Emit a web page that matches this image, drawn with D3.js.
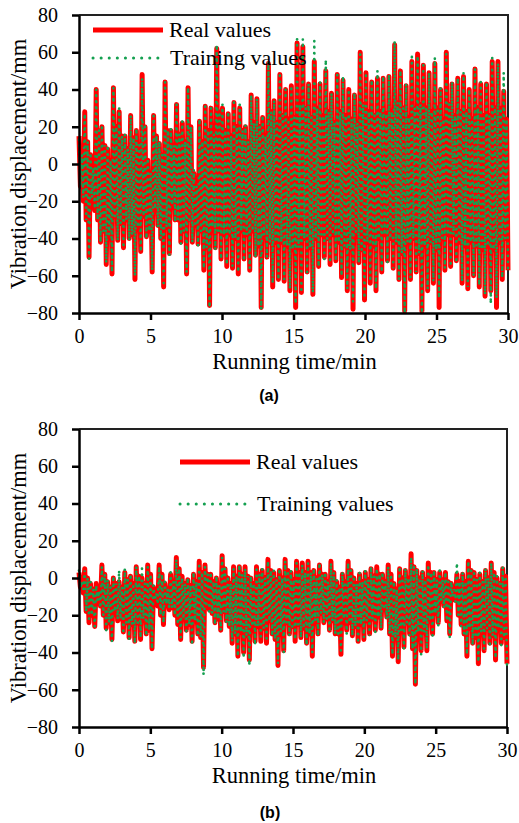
<!DOCTYPE html>
<head>
<meta charset="utf-8">
<title>Vibration displacement</title>
<script src="https://cdn.jsdelivr.net/npm/d3@7/dist/d3.min.js"></script>
<style>
body { margin: 0; background: #fff; }
.axis text { font: 20px "Liberation Serif", "Times New Roman", serif; fill: #000; }
.axis path, .axis line { fill: none; stroke: #000; stroke-width: 2.5; }
.title { font: 22.5px "Liberation Serif", "Times New Roman", serif; fill: #000; }
.legend { font: 22px "Liberation Serif", "Times New Roman", serif; fill: #000; }
.caption { font: bold 16px "Liberation Sans", Arial, sans-serif; fill: #000; }
</style>
</head>
<body>
<script>
// tick labels
var xTicks = [0, 5, 10, 15, 20, 25, 30];
var yTicks = [-80, -60, -40, -20, 0, 20, 40, 60, 80];

// (a), one cycle every 0.4 min: spike top, body low, body high, spike bottom
var realPeaksA = [15,28,5,40,20,8,41,28,15,26, 18,48,2,26,11,44,18,32,22,41,
  -5,23,31,30,62,30,27,33,30,20, 37,35,25,54,34,48,40,42,65,63,
  43,55,43,50,38,48,45,40,37,60, 49,44,46,46,47,64,50,42,55,59,
  53,49,54,40,60,43,46,47,40,51, 43,43,55,55,39];
var realTroughsA = [-20,-50,-25,-42,-54,-59,-41,-45,-40,-62, -47,-39,-58,-33,-66,-48,-30,-42,-59,-42,
  -43,-57,-76,-45,-51,-55,-56,-59,-51,-57, -49,-77,-50,-66,-62,-63,-68,-77,-69,-58,
  -70,-55,-50,-54,-52,-61,-68,-78,-53,-73, -64,-68,-58,-52,-56,-62,-79,-62,-58,-79,
  -68,-64,-77,-57,-55,-52,-64,-67,-60,-66, -71,-68,-77,-62,-57];
var trainPeaksA = [13,27,6,40,21,10,41,30,16,26, 19,46,3,26,12,44,19,32,23,41,
  -3,24,31,30,64,32,28,33,32,21, 37,35,26,55,34,49,40,42,67,67,
  43,66,44,56,38,48,47,40,38,59, 49,45,50,47,48,66,50,43,59,58,
  53,49,57,41,59,44,46,49,40,51, 44,44,57,54,49];
var trainTroughsA = [-18,-51,-24,-42,-53,-58,-41,-45,-41,-60, -47,-40,-57,-34,-64,-49,-31,-43,-58,-42,
  -44,-56,-77,-46,-51,-54,-55,-58,-52,-56, -50,-78,-50,-64,-62,-62,-67,-75,-69,-58,
  -69,-55,-51,-53,-52,-60,-67,-74,-53,-72, -63,-67,-58,-53,-56,-62,-80,-61,-58,-80,
  -67,-63,-72,-56,-55,-53,-63,-66,-60,-65, -70,-75,-72,-61,-57];
// dense body of the signal, where both series lie on top of each other
var bodyHighA = [5,12,-2,18,10,2,20,15,8,14, 10,20,-5,15,5,18,10,16,12,20,
  -12,12,18,16,28,18,15,20,18,12, 22,20,15,28,22,26,24,25,32,30,
  25,30,26,28,22,28,26,24,22,32, 28,26,28,27,28,33,30,25,30,32,
  30,28,30,24,32,26,28,28,24,30, 26,26,30,30,24];
var bodyLowA = [-12,-30,-18,-30,-36,-38,-28,-32,-30,-38, -34,-28,-36,-24,-40,-34,-22,-30,-36,-30,
  -32,-36,-45,-34,-36,-38,-38,-40,-36,-38, -36,-44,-38,-42,-42,-42,-44,-46,-45,-40,
  -45,-40,-38,-40,-38,-42,-44,-46,-38,-46, -42,-44,-40,-38,-40,-42,-48,-42,-40,-48,
  -44,-42,-46,-40,-38,-38,-42,-44,-42,-44, -46,-44,-46,-42,-40];

// (b)
var realPeaksB = [3,5,-3,-3,7,-2,0,-2,3,1, 6,0,7,-5,7,-3,2,11,1,-1,
  2,9,7,2,0,12,0,6,6,6, 0,6,4,10,3,4,10,3,9,8,
  9,4,7,2,9,-2,2,9,0,2, 3,5,6,2,7,-3,5,4,13,4,
  3,8,3,3,3,-3,2,2,9,3, 2,4,8,0,5];
var realTroughsB = [-8,-24,-26,-15,-27,-33,-23,-29,-32,-34, -33,-30,-38,-15,-25,-17,-20,-33,-28,-34,
  -30,-48,-17,-24,-28,-23,-35,-42,-40,-44, -34,-34,-35,-30,-47,-39,-30,-34,-32,-35,
  -42,-30,-24,-28,-30,-41,-28,-31,-34,-33, -30,-28,-27,-21,-42,-45,-37,-30,-57,-39,
  -39,-30,-24,-15,-30,-12,-25,-42,-35,-46, -39,-35,-44,-35,-46];
var trainPeaksB = [4,4,-2,-4,6,-1,1,4,5,2, 6,5,6,-4,6,-2,3,10,0,0,
  3,8,6,3,1,11,1,5,7,5, 1,6,5,9,4,5,9,4,8,7,
  8,5,8,3,8,-1,3,8,1,3, 4,6,5,3,6,-2,6,5,11,5,
  4,7,4,4,3,-2,8,3,9,4, 3,5,8,1,6];
var trainTroughsB = [-6,-22,-26,-16,-28,-34,-22,-30,-33,-35, -32,-31,-38,-14,-24,-16,-20,-32,-30,-36,
  -31,-52,-18,-25,-28,-24,-34,-42,-43,-47, -36,-33,-34,-31,-46,-40,-31,-33,-32,-36,
  -40,-31,-24,-29,-30,-39,-30,-31,-35,-32, -31,-29,-27,-22,-41,-44,-38,-31,-57,-41,
  -38,-31,-26,-16,-32,-13,-26,-41,-36,-45, -38,-37,-43,-36,-48];
var bodyHighB = [-2,0,-6,-7,2,-5,-3,-5,-1,-3, 1,-3,2,-8,2,-6,-2,5,-3,-4,
  -2,3,2,-2,-4,5,-3,1,2,1, -3,2,0,4,-1,0,4,-1,3,3,
  3,0,2,-2,3,-5,-2,4,-3,-2, -1,1,2,-2,2,-6,0,0,6,0,
  -1,3,-1,-1,-2,-6,-2,-2,4,-1, -2,0,3,-3,1];
var bodyLowB = [-5,-18,-20,-12,-20,-24,-18,-22,-24,-25, -24,-22,-28,-12,-20,-14,-16,-25,-22,-25,
  -23,-32,-14,-19,-22,-18,-26,-30,-29,-31, -26,-26,-27,-23,-33,-29,-24,-26,-25,-27,
  -30,-23,-19,-22,-23,-30,-22,-24,-26,-25, -23,-22,-21,-17,-30,-32,-28,-24,-38,-29,
  -29,-23,-19,-12,-23,-10,-20,-30,-27,-32, -29,-27,-31,-27,-32];

var W = 519, H = 823;
var RED = "#ff0000", GREEN = "#14a050";

var svg = d3.select("body").append("svg")
  .attr("width", W)
  .attr("height", H);

// put the readings back in time order
function series(peaks, bodyLow, bodyHigh, troughs) {
  var vals = peaks.flatMap(function(p, i) { return [p, bodyLow[i], bodyHigh[i], troughs[i]]; });
  return vals.map(function(v, i) { return [i * 30 / (vals.length - 1), v]; });
}

function panel(p) {
  var x = d3.scaleLinear().domain([0, 30]).range([p.left, p.right]);
  var y = d3.scaleLinear().domain([-80, 80]).range([p.bottom, p.top]);
  var g = svg.append("g");

  // top and right frame
  g.append("path")
    .attr("d", "M" + p.left + "," + p.top + "H" + p.right + "V" + p.bottom)
    .attr("fill", "none")
    .attr("stroke", "#222")
    .attr("stroke-width", 2);

  var line = d3.line()
    .x(function(d) { return x(d[0]); })
    .y(function(d) { return y(d[1]); });

  g.append("path").datum(p.real)
    .attr("d", line)
    .attr("fill", "none")
    .attr("stroke", RED)
    .attr("stroke-width", 5)
    .attr("stroke-linejoin", "round");

  g.append("path").datum(p.train)
    .attr("d", line)
    .attr("fill", "none")
    .attr("stroke", GREEN)
    .attr("stroke-width", 2.7)
    .attr("stroke-linecap", "round")
    .attr("stroke-dasharray", "0.1,6");

  g.append("g").attr("class", "axis")
    .attr("transform", "translate(0," + p.bottom + ")")
    .call(d3.axisBottom(x).tickValues(xTicks).tickSize(7).tickSizeOuter(0).tickPadding(9));

  g.append("g").attr("class", "axis")
    .attr("transform", "translate(" + p.left + ",0)")
    .call(d3.axisLeft(y).tickValues(yTicks).tickSize(7).tickSizeOuter(0).tickPadding(14));

  g.append("text").attr("class", "title")
    .attr("x", (p.left + p.right) / 2 + 1)
    .attr("y", p.bottom + 56)
    .attr("text-anchor", "middle")
    .text("Running time/min");

  g.append("text").attr("class", "title")
    .attr("transform", "translate(26," + (p.top + p.bottom) / 2 + ") rotate(-90)")
    .attr("text-anchor", "middle")
    .text("Vibration displacement/mm");

  // legend
  var lg = g.append("g").attr("transform", "translate(" + p.legX + "," + p.legY + ")");
  lg.append("line").attr("x1", 0).attr("x2", 70).attr("y1", 0).attr("y2", 0)
    .attr("stroke", RED).attr("stroke-width", 5);
  lg.append("text").attr("class", "legend").attr("x", 76).attr("y", 0).attr("dy", "0.33em")
    .text("Real values");
  lg.append("line").attr("x1", 0).attr("x2", 66).attr("y1", p.legGap).attr("y2", p.legGap)
    .attr("stroke", GREEN).attr("stroke-width", 3)
    .attr("stroke-linecap", "round").attr("stroke-dasharray", "0.1,8");
  lg.append("text").attr("class", "legend").attr("x", 77).attr("y", p.legGap).attr("dy", "0.33em")
    .text("Training values");

  g.append("text").attr("class", "caption")
    .attr("x", p.capX).attr("y", p.capY)
    .attr("text-anchor", "middle")
    .text(p.caption);
}

panel({
  left: 79, right: 508, top: 15, bottom: 313,
  real: series(realPeaksA, bodyLowA, bodyHighA, realTroughsA),
  train: series(trainPeaksA, bodyLowA, bodyHighA, trainTroughsA),
  legX: 93, legY: 30, legGap: 28,
  caption: "(a)", capX: 269, capY: 401
});

panel({
  left: 79, right: 507, top: 429, bottom: 727,
  real: series(realPeaksB, bodyLowB, bodyHighB, realTroughsB),
  train: series(trainPeaksB, bodyLowB, bodyHighB, trainTroughsB),
  legX: 180, legY: 462, legGap: 42,
  caption: "(b)", capX: 270, capY: 818
});
</script>
</body>
